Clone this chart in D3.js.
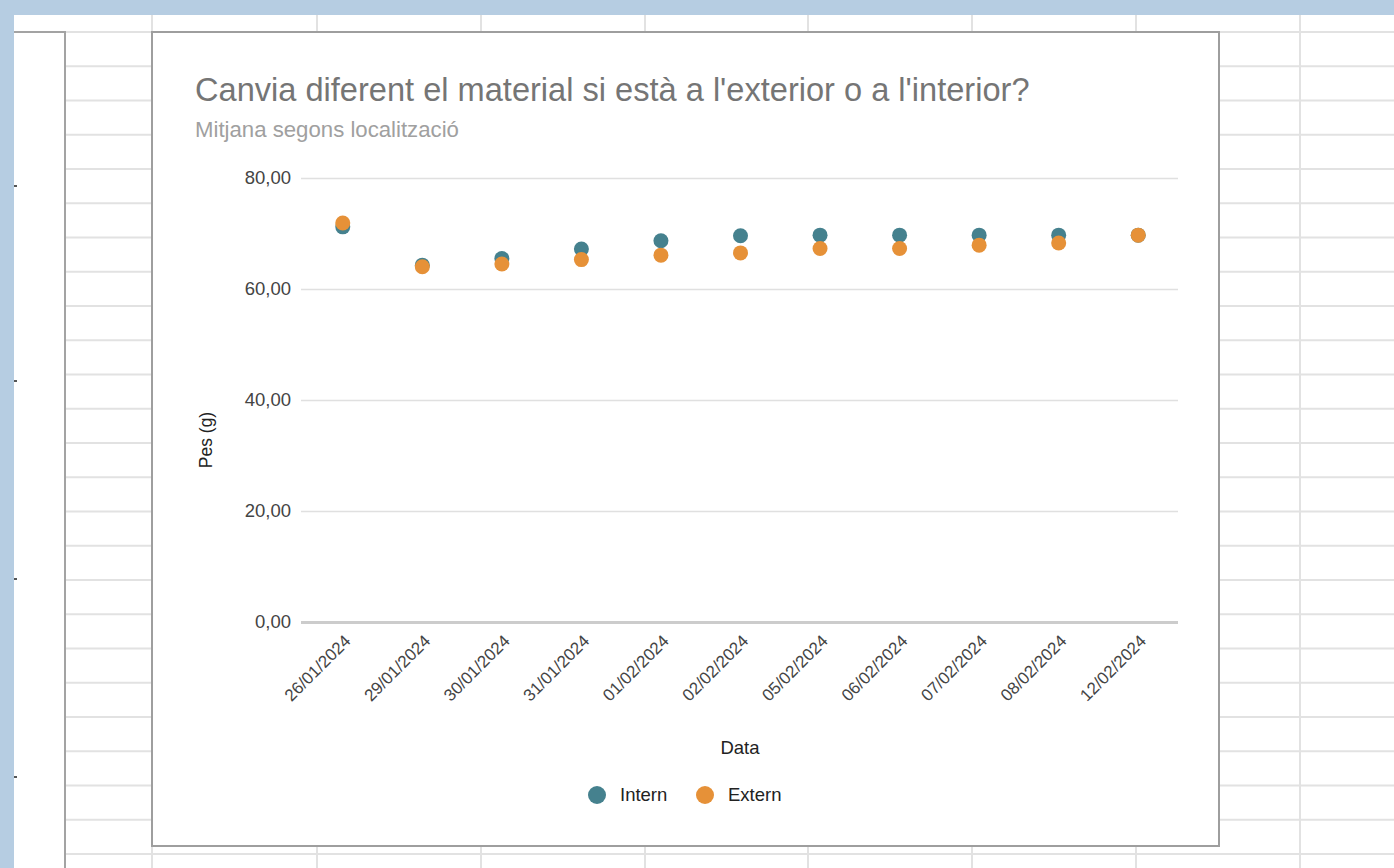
<!DOCTYPE html>
<html>
<head>
<meta charset="utf-8">
<script src="https://cdn.jsdelivr.net/npm/d3@7"></script>
<style>
  html, body { margin: 0; padding: 0; background: #ffffff; }
  svg { display: block; font-family: Arial, "Liberation Sans", sans-serif; }
</style>
</head>
<body>
<svg id="chart" width="1394" height="868"></svg>
<script>
// ---- data ----
const categories = ["26/01/2024","29/01/2024","30/01/2024","31/01/2024","01/02/2024","02/02/2024","05/02/2024","06/02/2024","07/02/2024","08/02/2024","12/02/2024"];
const internValues = [71.2, 64.3, 65.5, 67.2, 68.7, 69.6, 69.7, 69.7, 69.7, 69.7, 69.7];
const externValues = [71.9, 64.0, 64.5, 65.3, 66.1, 66.5, 67.3, 67.3, 67.9, 68.3, 69.7];
const yTicks = [0, 20, 40, 60, 80];
const seriesNames = ["Intern", "Extern"];
const seriesColors = ["#45818e", "#e69138"];
const titleText = "Canvia diferent el material si està a l'exterior o a l'interior?";
const subtitleText = "Mitjana segons localització";
const yAxisTitle = "Pes (g)";
const xAxisTitle = "Data";

const svg = d3.select("#chart");
const W = 1394, H = 868;

// ---- spreadsheet background ----
const gridColor = "#e2e2e2";
const bg = svg.append("g");
const rowY = d3.range(0, 26).map(k => 32 + k * 34.25).filter(y => y < H);
const colX = [152, 317, 481, 645, 808, 972, 1136, 1300];
bg.selectAll("line.h").data(rowY).join("line")
  .attr("x1", 65).attr("x2", W).attr("y1", d => d).attr("y2", d => d)
  .attr("stroke", gridColor).attr("stroke-width", 2);
bg.selectAll("line.v").data(colX).join("line")
  .attr("x1", d => d).attr("x2", d => d).attr("y1", 15).attr("y2", H)
  .attr("stroke", gridColor).attr("stroke-width", 2);
// left partial chart object
bg.append("rect").attr("x", 0).attr("y", 32).attr("width", 65).attr("height", H)
  .attr("fill", "#ffffff").attr("stroke", "#a3a3a3").attr("stroke-width", 2);
// blue frame
bg.append("rect").attr("x", 0).attr("y", 0).attr("width", W).attr("height", 15).attr("fill", "#b6cde2");
bg.append("rect").attr("x", 0).attr("y", 0).attr("width", 14).attr("height", H).attr("fill", "#b6cde2");
[185, 380, 578, 776].forEach(y => bg.append("rect").attr("x", 14).attr("y", y).attr("width", 3).attr("height", 2).attr("fill", "#555"));

// ---- chart box ----
svg.append("rect").attr("x", 152).attr("y", 32).attr("width", 1067).attr("height", 814)
  .attr("fill", "#ffffff").attr("stroke", "#9e9e9e").attr("stroke-width", 2);

function fitWidth(sel, target) {
  const base = parseFloat(sel.attr("font-size"));
  const w = sel.node().getComputedTextLength();
  if (w > 0) sel.attr("font-size", (base * target / w).toFixed(2));
}

const title = svg.append("text").attr("x", 195).attr("y", 101)
  .attr("font-size", 32).attr("fill", "#757575").text(titleText);
fitWidth(title, 835);
const subtitle = svg.append("text").attr("x", 195).attr("y", 137)
  .attr("font-size", 20).attr("fill", "#a0a0a0").text(subtitleText);
fitWidth(subtitle, 264);

// ---- scales ----
const plotLeft = 301, plotRight = 1178, plotTop = 178, plotBottom = 622;
const x = d3.scaleBand().domain(categories).range([303, 1178]);
const y = d3.scaleLinear().domain([0, 80]).range([plotBottom, plotTop]);
const fmt = v => d3.format(".2f")(v).replace(".", ",");

// gridlines + y labels via axis
const yAxis = d3.axisLeft(y).tickValues(yTicks).tickFormat(fmt)
  .tickSize(-(plotRight - plotLeft)).tickPadding(10);
const yg = svg.append("g").attr("transform", `translate(${plotLeft},0)`).call(yAxis);
yg.select(".domain").remove();
yg.selectAll(".tick line").attr("stroke", "#e0e0e0").attr("stroke-width", 1.5);
yg.selectAll(".tick text").attr("font-size", 18.5).attr("fill", "#444").attr("font-family", "Arial, 'Liberation Sans', sans-serif");
yg.selectAll(".tick").filter(d => d === 0).select("line").attr("stroke", "#cccccc").attr("stroke-width", 3);

// x labels via axis
const xAxis = d3.axisBottom(x).tickSize(0).tickPadding(0);
const xg = svg.append("g").attr("transform", `translate(0,${plotBottom})`).call(xAxis);
xg.select(".domain").remove();
xg.selectAll(".tick text")
  .attr("font-size", 17).attr("fill", "#444").attr("font-family", "Arial, 'Liberation Sans', sans-serif")
  .attr("text-anchor", "end").attr("dy", null).attr("y", null)
  .attr("transform", "translate(9,20) rotate(-45)");

// axis titles
svg.append("text").attr("transform", `translate(212,440) rotate(-90)`)
  .attr("text-anchor", "middle").attr("font-size", 17.5).attr("fill", "#222").text(yAxisTitle);
svg.append("text").attr("x", 740).attr("y", 754)
  .attr("text-anchor", "middle").attr("font-size", 18.5).attr("fill", "#222").text(xAxisTitle);

// ---- points ----
const seriesData = [internValues, externValues];
seriesData.forEach((vals, si) => {
  svg.append("g").selectAll("circle").data(vals).join("circle")
    .attr("cx", (d, i) => x(categories[i]) + x.bandwidth() / 2)
    .attr("cy", d => y(d))
    .attr("r", 7.5)
    .attr("fill", seriesColors[si]);
});

// ---- legend ----
const legend = svg.append("g");
const legendPos = [{cx: 597, tx: 620}, {cx: 705, tx: 728}];
seriesNames.forEach((name, i) => {
  legend.append("circle").attr("cx", legendPos[i].cx).attr("cy", 795).attr("r", 9).attr("fill", seriesColors[i]);
  legend.append("text").attr("x", legendPos[i].tx).attr("y", 801).attr("font-size", 18.5).attr("fill", "#222").text(name);
});
</script>
</body>
</html>
